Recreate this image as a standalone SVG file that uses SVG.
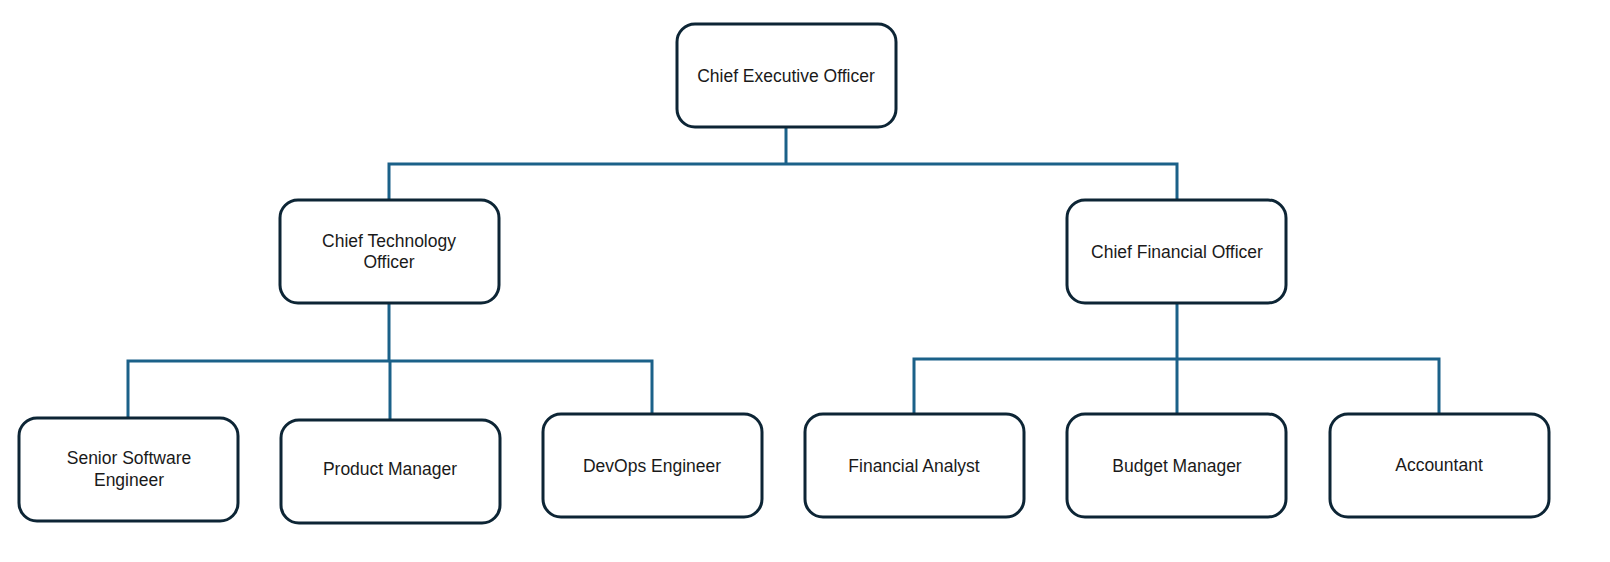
<svg xmlns="http://www.w3.org/2000/svg" width="1610" height="562" viewBox="0 0 1610 562">
<style>
.box{fill:#ffffff;stroke:#0d2535;stroke-width:3}
.lbl{font-family:"Liberation Sans",Arial,sans-serif;font-size:17.5px;fill:#1a1a1a;text-anchor:middle}
.conn{fill:none;stroke:#1b6189;stroke-width:3;stroke-linejoin:miter}
</style>
<rect width="1610" height="562" fill="#ffffff"/>
<g id="connectors">
<path class="conn" d="M786 126 V164"/>
<path class="conn" d="M389 200 V164 H1177 V200"/>
<path class="conn" d="M389 303 V361"/>
<path class="conn" d="M128 418 V361 H652 V414"/>
<path class="conn" d="M390 420 V361"/>
<path class="conn" d="M1177 303 V359"/>
<path class="conn" d="M914 414 V359 H1439 V414"/>
<path class="conn" d="M1177 414 V359"/>
</g>
<g id="ceo">
<rect class="box" x="677" y="24" width="219" height="103" rx="18"/>
<text class="lbl" x="786" y="82">Chief Executive Officer</text>
</g>
<g id="cto">
<rect class="box" x="280" y="200" width="219" height="103" rx="18"/>
<text class="lbl" x="389" y="247">Chief Technology</text>
<text class="lbl" x="389" y="268">Officer</text>
</g>
<g id="cfo">
<rect class="box" x="1067" y="200" width="219" height="103" rx="18"/>
<text class="lbl" x="1177" y="258">Chief Financial Officer</text>
</g>
<g id="sse">
<rect class="box" x="19" y="418" width="219" height="103" rx="18"/>
<text class="lbl" x="129" y="464">Senior Software</text>
<text class="lbl" x="129" y="486">Engineer</text>
</g>
<g id="pm">
<rect class="box" x="281" y="420" width="219" height="103" rx="18"/>
<text class="lbl" x="390" y="475">Product Manager</text>
</g>
<g id="devops">
<rect class="box" x="543" y="414" width="219" height="103" rx="18"/>
<text class="lbl" x="652" y="472">DevOps Engineer</text>
</g>
<g id="fa">
<rect class="box" x="805" y="414" width="219" height="103" rx="18"/>
<text class="lbl" x="914" y="472">Financial Analyst</text>
</g>
<g id="bm">
<rect class="box" x="1067" y="414" width="219" height="103" rx="18"/>
<text class="lbl" x="1177" y="472">Budget Manager</text>
</g>
<g id="acc">
<rect class="box" x="1330" y="414" width="219" height="103" rx="18"/>
<text class="lbl" x="1439" y="471">Accountant</text>
</g>
</svg>
